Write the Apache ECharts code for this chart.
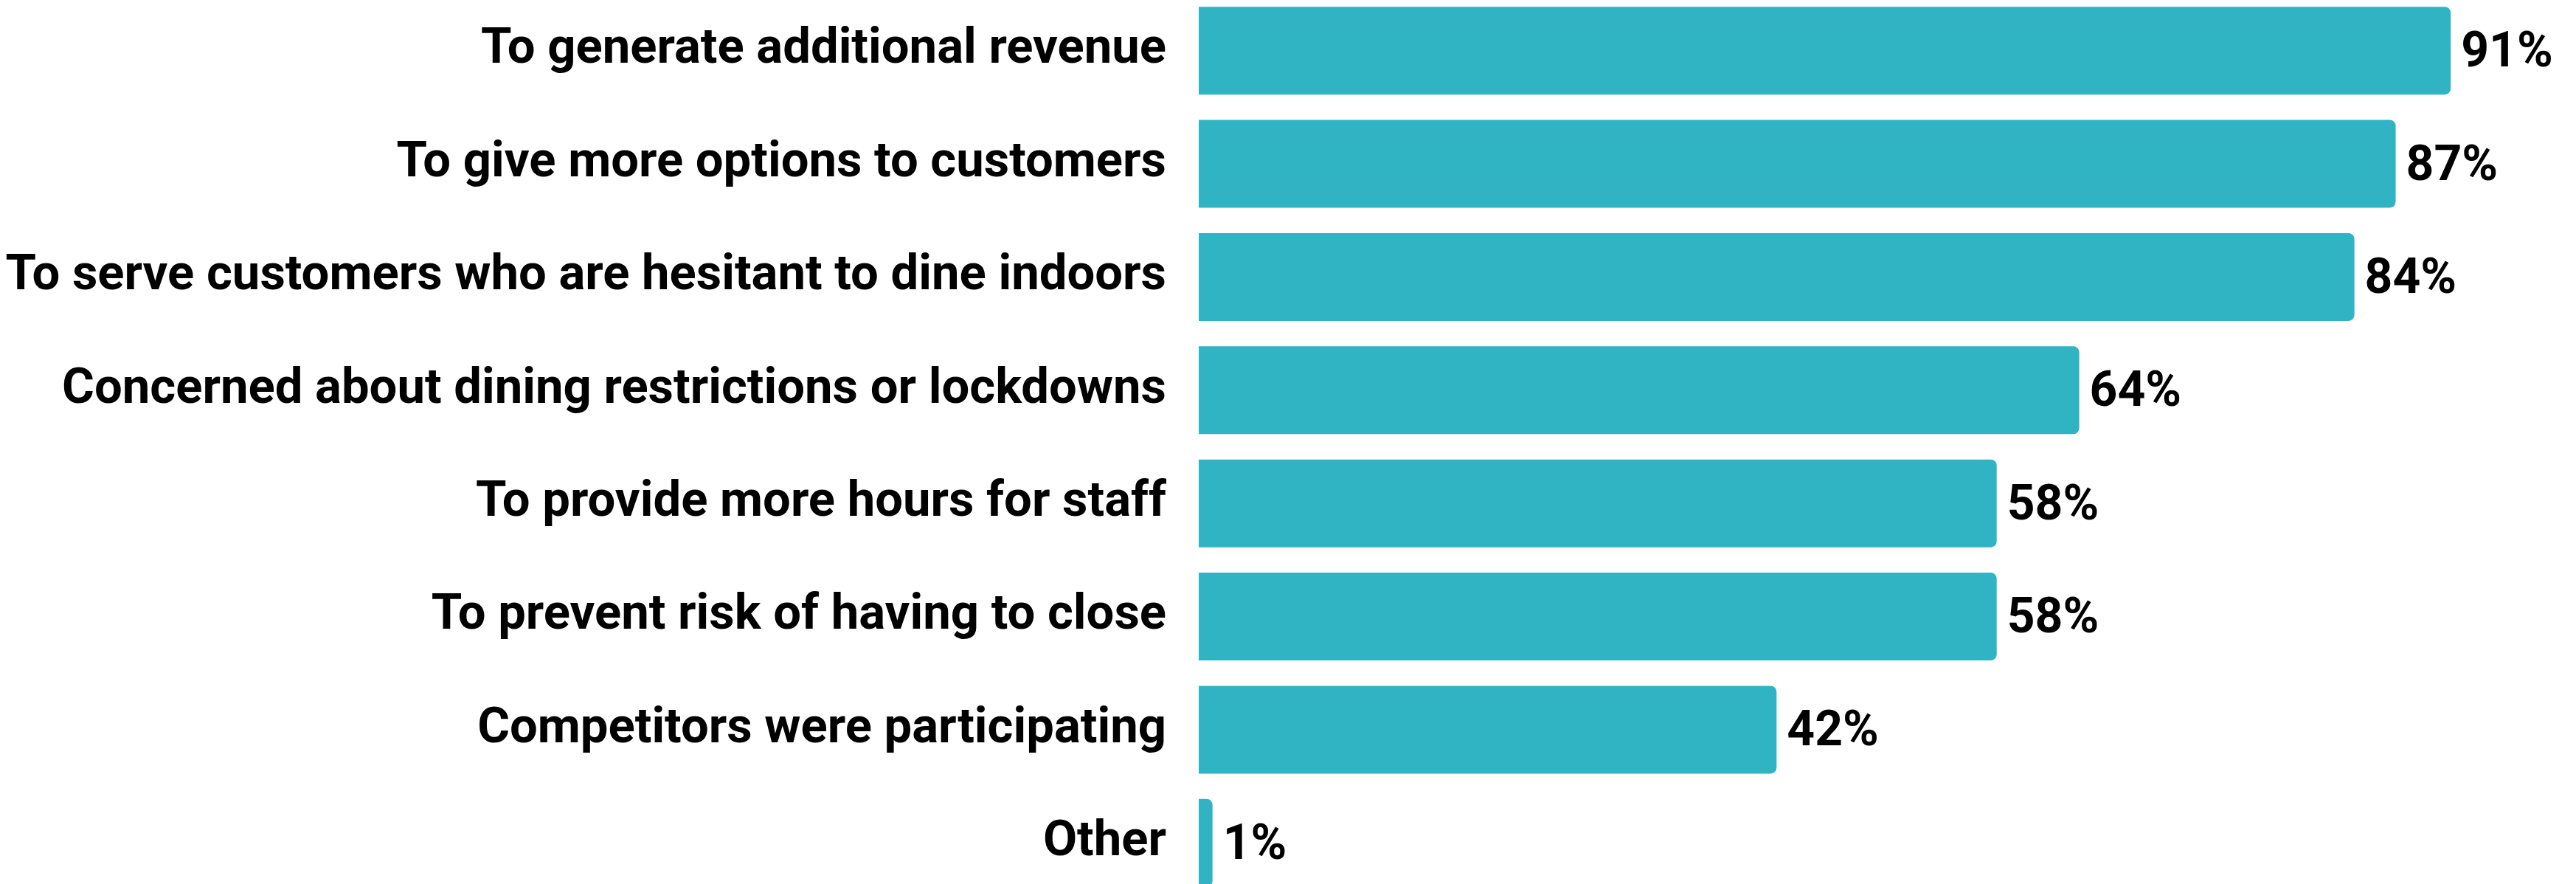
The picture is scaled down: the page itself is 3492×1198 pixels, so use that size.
<!DOCTYPE html>
<html>
<head>
<meta charset="utf-8">
<script src="https://cdn.jsdelivr.net/npm/echarts@6/dist/echarts.min.js"></script>
<style>
html,body{margin:0;padding:0;background:#fff;}
#chart{width:3492px;height:1198px;}
</style>
</head>
<body>
<div id="chart"></div>
<script>
const categories = [
  "To generate additional revenue",
  "To give more options to customers",
  "To serve customers who are hesitant to dine indoors",
  "Concerned about dining restrictions or lockdowns",
  "To provide more hours for staff",
  "To prevent risk of having to close",
  "Competitors were participating",
  "Other"
];
const values = [91, 87, 84, 64, 58, 58, 42, 1];
const barColor = "#30B3C3";

const chart = echarts.init(document.getElementById('chart'), null, {renderer: 'canvas'});
chart.setOption({
  animation: false,
  backgroundColor: '#ffffff',
  grid: {
    left: 1625,
    width: 1865,
    top: -8,
    height: 1227,
    containLabel: false,
    outerBoundsMode: 'none'
  },
  xAxis: {
    type: 'value',
    min: 0,
    max: 100,
    show: false
  },
  yAxis: {
    type: 'category',
    data: categories,
    inverse: true,
    axisLine: {show: false},
    axisTick: {show: false},
    splitLine: {show: false},
    axisLabel: {
      margin: 44,
      color: '#000000',
      fontFamily: 'Roboto',
      fontWeight: 'bold',
      fontSize: 67,
      padding: [10, 0, 0, 0]
    }
  },
  series: [{
    type: 'bar',
    data: values,
    barWidth: 119,
    itemStyle: {
      color: barColor,
      borderRadius: [0, 8, 8, 0]
    },
    label: {
      show: true,
      position: 'right',
      distance: 14,
      offset: [0, 5],
      formatter: '{c}%',
      color: '#000000',
      fontFamily: 'Roboto',
      fontWeight: 'bold',
      fontSize: 66
    }
  }]
});
</script>
</body>
</html>
